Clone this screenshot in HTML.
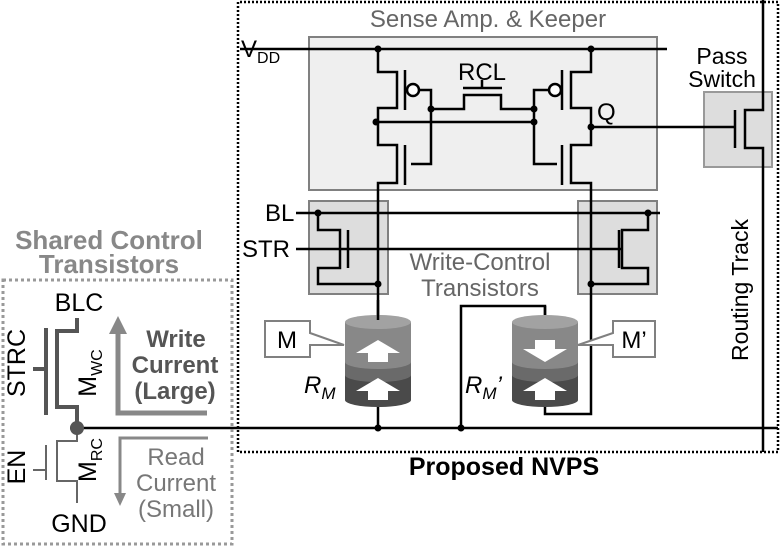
<!DOCTYPE html>
<html><head><meta charset="utf-8"><style>
body{margin:0;background:#fff}
svg{display:block}
text{font-family:"Liberation Sans",sans-serif}
</style></head><body>
<svg width="780" height="546" viewBox="0 0 780 546">
<defs>
<g id="cyl">
<path d="M-33,0 V78 A33,7 0 0 0 33,78 V0 Z" fill="#4a4a4a"/>
<path d="M-33,0 V53 A33,7 0 0 0 33,53 V0 Z" fill="#6a6a6a"/>
<path d="M-33,0 V40 A33,7 0 0 0 33,40 V0 Z" fill="#888"/>
<ellipse cx="0" cy="0" rx="33" ry="7" fill="#a2a2a2"/>
</g>
<g id="aup"><path d="M0,0 L22,13 H10 V22 H-10 V13 H-22 Z" fill="#fff"/></g>
</defs>
<path d="M238,452 V2 H778 V452 Z" fill="none" stroke="#000" stroke-width="2.5" stroke-dasharray="2,2"/>
<rect x="309" y="37" width="348" height="153" fill="#efefef" stroke="#808080" stroke-width="2"/>
<text x="488" y="27" font-size="24" fill="#666" text-anchor="middle">Sense Amp. &amp; Keeper</text>
<rect x="309" y="201" width="79" height="93" fill="#ddd" stroke="#808080" stroke-width="2"/>
<rect x="578" y="201" width="79" height="93" fill="#ddd" stroke="#808080" stroke-width="2"/>
<rect x="704" y="92" width="68" height="75" fill="#ddd" stroke="#999" stroke-width="2"/>
<g stroke="#000" stroke-width="2.5" fill="none">
<path d="M240,49 H667"/>
<path d="M378,49 V72 H397 V108 H378 V145 H397 V183 H378 V320"/>
<path d="M405,70 V110 M405,145 V185"/>
<path d="M419,90 H431 V164 H411 M431,109 H464 V95 H501 V109 H534 M463,88 H502 M482,88 V80"/>
<path d="M376,122 H534"/>
<path d="M591,49 V72 H571 V108 H591 V145 H571 V183 H591 V414 H545 V405"/>
<path d="M562,70 V110 M562,145 V185"/>
<path d="M549,90 H534 V164 H557"/>
<path d="M591,127 H735 M735,110 V148"/>
<path d="M763,0 V110 H745 V148 H763 V452"/>
<path d="M296,213 H660 M296,249 H622"/>
<path d="M318,213 V230 H340 V268 H318 V284 H378 M348,230 V268"/>
<path d="M648,213 V230 H622 V268 H648 V284 H591 M619,230 V268"/>
<path d="M545,315 V306 H461 V428"/>
<path d="M378,400 V428"/>
<path d="M70,428 H778"/>
</g>
<circle cx="413" cy="90" r="6" fill="#fff" stroke="#000" stroke-width="2.5"/>
<circle cx="555" cy="90" r="6" fill="#fff" stroke="#000" stroke-width="2.5"/>
<g fill="#000">
<circle cx="378" cy="49" r="3.5"/><circle cx="591" cy="49" r="3.5"/>
<circle cx="431" cy="109" r="3.5"/><circle cx="534" cy="109" r="3.5"/>
<circle cx="376" cy="122" r="3.5"/><circle cx="534" cy="122" r="3.5"/>
<circle cx="591" cy="127" r="3.5"/>
<circle cx="318" cy="213" r="3.5"/><circle cx="648" cy="213" r="3.5"/>
<circle cx="378" cy="284" r="3.5"/><circle cx="591" cy="284" r="3.5"/>
<circle cx="378" cy="428" r="3.5"/><circle cx="461" cy="428" r="3.5"/>
</g>
<text x="241" y="57" font-size="24">V<tspan font-size="16" dy="6">DD</tspan></text>
<text x="482" y="80" font-size="24" text-anchor="middle">RCL</text>
<text x="597" y="120" font-size="24">Q</text>
<text x="722" y="64" font-size="23" text-anchor="middle">Pass</text>
<text x="722" y="87" font-size="23" text-anchor="middle">Switch</text>
<text x="748" y="290" font-size="23" text-anchor="middle" transform="rotate(-90 748 290)">Routing Track</text>
<text x="265" y="221" font-size="24">BL</text>
<text x="242" y="257" font-size="24">STR</text>
<text x="480" y="270" font-size="24" fill="#666" text-anchor="middle">Write-Control</text>
<text x="480" y="296" font-size="24" fill="#666" text-anchor="middle">Transistors</text>
<use href="#cyl" x="378" y="322"/>
<use href="#aup" x="378" y="340"/>
<use href="#aup" x="378" y="378"/>
<use href="#cyl" x="545" y="322"/>
<g transform="translate(545 362) scale(1 -1)"><use href="#aup"/></g>
<use href="#aup" x="545" y="378"/>
<path d="M378,300 V320 M545,306 V315" stroke="#000" stroke-width="2.5"/>
<path d="M310,321 H265 V357 H310 V345 L344,345 L310,333 Z" fill="#fff" stroke="#808080" stroke-width="2"/>
<text x="287" y="348" font-size="24" text-anchor="middle">M</text>
<path d="M613,321 H655 V357 H613 V345 L578,345 L613,333 Z" fill="#fff" stroke="#808080" stroke-width="2"/>
<text x="634" y="348" font-size="24" text-anchor="middle">M’</text>
<text x="304" y="393" font-size="24" font-style="italic">R<tspan font-size="17" dy="6">M</tspan></text>
<text x="465" y="393" font-size="24" font-style="italic">R<tspan font-size="17" dy="6">M</tspan><tspan dy="-6">’</tspan></text>
<text x="504" y="475" font-size="25" font-weight="bold" text-anchor="middle">Proposed NVPS</text>
<text x="109" y="249" font-size="26" font-weight="bold" fill="#888" text-anchor="middle">Shared Control</text>
<text x="109" y="273" font-size="26" font-weight="bold" fill="#888" text-anchor="middle">Transistors</text>
<rect x="3" y="280" width="229" height="264" fill="none" stroke="#999" stroke-width="3" stroke-dasharray="3,3"/>
<g fill="none" stroke="#555" stroke-width="4">
<path d="M77,318 V331 H57 V407 H77 V428"/>
<path d="M46,328 V415 M33,369 H46"/>
</g>
<g fill="none" stroke="#666" stroke-width="2">
<path d="M77,428 V441 H57 V481 H77 V503"/>
<path d="M46,445 V480 M33,470 H46"/>
</g>
<circle cx="77" cy="428" r="7" fill="#555"/>
<text x="79" y="311" font-size="25" text-anchor="middle">BLC</text>
<text x="79" y="532" font-size="25" text-anchor="middle">GND</text>
<text x="25" y="363" font-size="25" text-anchor="middle" transform="rotate(-90 25 363)">STRC</text>
<text x="25" y="467" font-size="25" text-anchor="middle" transform="rotate(-90 25 467)">EN</text>
<text x="96" y="373" font-size="25" text-anchor="middle" transform="rotate(-90 96 373)">M<tspan font-size="16" dy="6">WC</tspan></text>
<text x="96" y="460" font-size="25" text-anchor="middle" transform="rotate(-90 96 460)">M<tspan font-size="16" dy="6">RC</tspan></text>
<path d="M207,413 H118 V330" fill="none" stroke="#888" stroke-width="5"/>
<path d="M118,316 L109,334 H127 Z" fill="#888"/>
<path d="M208,438 H120 V496" fill="none" stroke="#888" stroke-width="3"/>
<path d="M120,506 L114,493 H126 Z" fill="#888"/>
<g font-size="24" font-weight="bold" fill="#555" text-anchor="middle">
<text x="176" y="347">Write</text><text x="175" y="373">Current</text><text x="175" y="399">(Large)</text>
</g>
<g font-size="24" fill="#777" text-anchor="middle">
<text x="176" y="465">Read</text><text x="176" y="491">Current</text><text x="176" y="517">(Small)</text>
</g>
</svg>
</body></html>
